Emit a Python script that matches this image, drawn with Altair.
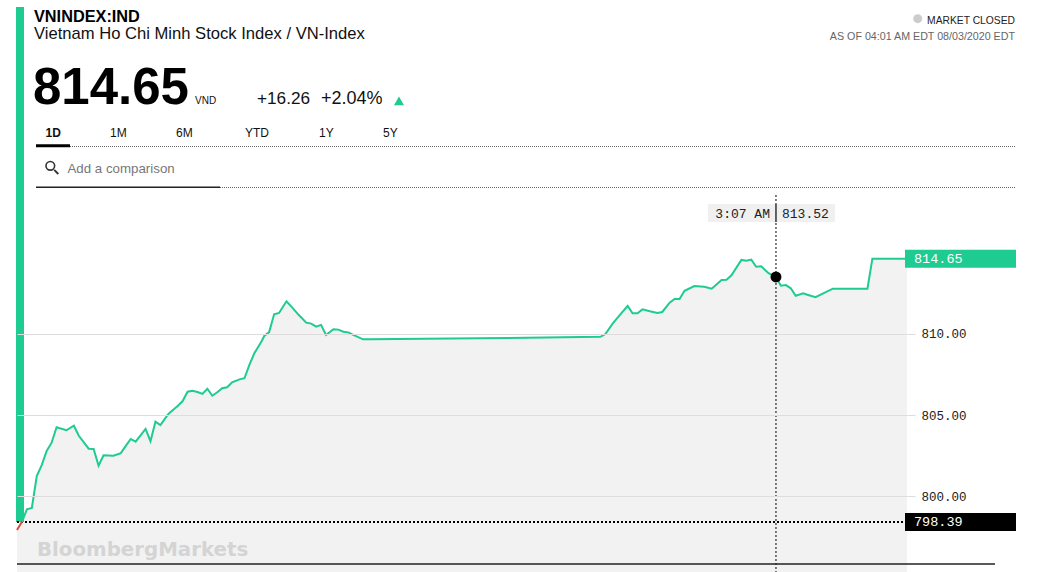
import altair as alt
import pandas as pd

# ---------------- data (minutes after 22:00 EDT, index value) ----------------
times = [2, 4, 6, 8, 10, 12, 14, 16, 20, 23, 25, 29, 31, 33, 35, 39, 42, 44, 46, 48,
         52, 54, 56, 58, 61, 62, 65, 67, 69, 71, 73, 75, 77, 79, 81, 83, 85, 87, 90, 92,
         94, 96, 99, 100, 102, 104, 106, 109, 111, 114, 117, 119, 121, 123, 125, 128, 130, 132, 134, 136,
         140, 143, 187, 236, 238, 241, 245, 247, 249, 251, 253, 256, 259, 261, 264, 266, 268, 270, 274, 278,
         281, 285, 287, 289, 293, 295, 297, 299, 301, 304, 307, 309, 311, 313, 315, 318, 320, 323, 330, 344,
         346, 360]
values = [798.41, 799.18, 799.26, 801.23, 801.91, 802.78, 803.29, 804.24, 804.06, 804.34, 803.72, 802.92, 802.90, 801.87, 802.51, 802.49, 802.65, 803.09, 803.52, 803.35,
          804.14, 803.38, 804.59, 804.38, 805.02, 805.17, 805.56, 805.86, 806.44, 806.50, 806.42, 806.30, 806.62, 806.19, 806.40, 806.65, 806.71, 807.02, 807.20, 807.27,
          808.09, 808.81, 809.57, 809.88, 810.12, 811.22, 811.30, 812.02, 811.69, 811.17, 810.70, 810.64, 810.45, 810.56, 809.94, 810.29, 810.27, 810.14, 810.10, 809.94,
          809.67, 809.67, 809.73, 809.83, 810.00, 810.66, 811.38, 811.73, 811.28, 811.28, 811.52, 811.40, 811.30, 811.36, 811.93, 812.16, 812.16, 812.67, 812.96, 812.92,
          812.80, 813.33, 813.35, 813.62, 814.57, 814.52, 814.59, 814.15, 814.18, 813.75, 813.52, 812.98, 813.02, 812.82, 812.36, 812.51, 812.41, 812.27, 812.80, 812.80,
          814.65, 814.65]
red_times = [0, 2]
red_values = [797.90, 798.41]

prev_close = 798.39
last_price = 814.65
hover_time = 307
hover_value = 813.52
hover_label = "3:07 AM"
y_ticks = [800, 805, 810]

ticker = "VNINDEX:IND"
name = "Vietnam Ho Chi Minh Stock Index / VN-Index"
price_text = "814.65"
currency = "VND"
change_abs = "+16.26"
change_pct = "+2.04%"
tabs = ["1D", "1M", "6M", "YTD", "1Y", "5Y"]
search_text = "Add a comparison"
status_text = "MARKET CLOSED"
asof_text = "AS OF 04:01 AM EDT 08/03/2020 EDT"
watermark = "BloombergMarkets"

# ---------------- layout helpers ----------------
W, H = 890, 384
LEFT, TOP = 17, 188


def X(px):
    return px - LEFT


def Y(py):
    return py - TOP


GREEN = "#1ecb91"
GREY = "#f2f2f2"
MONO = "Liberation Mono"
SANS = "Liberation Sans"

xs = alt.Scale(domain=[0, 360], nice=False, zero=False)
ys = alt.Scale(domain=[795.309, 819.012], nice=False, zero=False)
yaxis = alt.Axis(orient="right", values=y_ticks, format=".2f", grid=True, gridColor="#dddddd",
                 gridWidth=1, tickColor="#dddddd", tickSize=8, domain=False, labelFont=MONO,
                 labelFontSize=12.5, labelColor="#222222", labelPadding=6, title=None, zindex=1)


def xe(f="t"):
    return alt.X(f, type="quantitative", scale=xs, axis=None)


def ye(f="v"):
    return alt.Y(f, type="quantitative", scale=ys, axis=yaxis)


def one():
    return pd.DataFrame({"a": [0]})


def text_layer(s, x, y, size, color="#000000", weight="normal", font=SANS, align="left", baseline="alphabetic"):
    return alt.Chart(pd.DataFrame({"s": [s]})).mark_text(
        align=align, baseline=baseline, fontSize=size, font=font, fontWeight=weight, color=color
    ).encode(x=alt.value(X(x)), y=alt.value(Y(y)), text="s:N")


def hrule(x1, x2, y, color, width, dash=None):
    kw = dict(color=color, strokeWidth=width)
    if dash:
        kw["strokeDash"] = dash
    return alt.Chart(one()).mark_rule(**kw).encode(
        x=alt.value(X(x1)), x2=alt.value(X(x2)), y=alt.value(Y(y)))


line_df = pd.DataFrame({"t": times, "v": values})
area_df = pd.DataFrame({"t": red_times[:1] + times, "v": red_values[:1] + values})
red_df = pd.DataFrame({"t": red_times, "v": red_values})
labels_df = pd.DataFrame({"v": [last_price, prev_close],
                          "label": [f"{last_price:.2f}", f"{prev_close:.2f}"],
                          "c": [GREEN, "#000000"]})
hover_df = pd.DataFrame({"t": [hover_time], "v": [hover_value], "lab": [hover_label]})
prev_df = pd.DataFrame({"v": [prev_close]})

# ---------------- chart layers ----------------
area = alt.Chart(area_df).mark_area(color=GREY).encode(x=xe(), y=ye(), y2=alt.value(H))

accent = alt.Chart(one()).mark_rect(color=GREEN).encode(
    x=alt.value(X(16)), x2=alt.value(X(24)), y=alt.value(Y(7)), y2=alt.value(Y(522)))

prev_rule = alt.Chart(prev_df).mark_rule(color="#000000", strokeWidth=2, strokeDash=[2, 2]).encode(
    y=ye(), x=alt.value(0), x2=alt.value(X(905)))

cross = alt.Chart(hover_df).mark_rule(color="#000000", strokeWidth=1, strokeDash=[2, 2]).encode(
    x=xe(), y=alt.value(Y(195)), y2=alt.value(H))

red_line = alt.Chart(red_df).mark_line(color="#e5473a", strokeWidth=2).encode(x=xe(), y=ye())
green_line = alt.Chart(line_df).mark_line(color=GREEN, strokeWidth=2).encode(x=xe(), y=ye())

dot = alt.Chart(hover_df).mark_point(filled=True, color="#000000", size=120, opacity=1).encode(x=xe(), y=ye())

tip_box = alt.Chart(hover_df).mark_rect(color="#f0f0f0", xOffset=-68, x2Offset=59).encode(
    x=xe(), x2=alt.X2("t"), y=alt.value(Y(204)), y2=alt.value(Y(222)))
tip_sep = alt.Chart(hover_df).mark_rule(color="#333333", strokeWidth=1.5).encode(
    x=xe(), y=alt.value(Y(204)), y2=alt.value(Y(222)))
tip_time = alt.Chart(hover_df).mark_text(align="right", baseline="middle", dx=-6, font=MONO,
                                          fontSize=13, color="#222222").encode(
    x=xe(), y=alt.value(Y(213.5)), text="lab:N")
tip_val = alt.Chart(hover_df).mark_text(align="left", baseline="middle", dx=6, font=MONO,
                                         fontSize=13, color="#222222").encode(
    x=xe(), y=alt.value(Y(213.5)), text=alt.Text("v:Q", format=".2f"))

label_box = alt.Chart(labels_df).mark_rect(yOffset=-9, y2Offset=9).encode(
    y=ye(), y2=alt.Y2("v"), x=alt.value(X(905)), x2=alt.value(X(1016)),
    color=alt.Color("c:N", scale=None))
label_txt = alt.Chart(labels_df).mark_text(align="left", baseline="middle", font=MONO, fontSize=13.5,
                                           color="white").encode(
    y=ye(), x=alt.value(X(914)), text="label:N")

bottom_line = hrule(17, 995, 564, "#222222", 1.5)

wm = text_layer(watermark, 37, 555.5, 19.8, color="#d4d4d4", weight="bold", font="DejaVu Sans")

# header
hdr = [
    text_layer(ticker, 34, 22, 16.3, weight="bold"),
    text_layer(name, 34, 39, 16.6, color="#111111"),
    text_layer(price_text, 33, 104, 51, weight="bold"),
    text_layer(currency, 195, 103.5, 10, color="#111111"),
    text_layer(change_abs, 257, 103.5, 17.2, color="#111111"),
    text_layer(change_pct, 321, 103.5, 18, color="#111111"),
    alt.Chart(one()).mark_point(shape="triangle-up", filled=True, color=GREEN, size=100, opacity=1).encode(
        x=alt.value(X(399)), y=alt.value(Y(100.8))),
    text_layer(status_text, 1015, 24, 10.3, color="#222222", align="right"),
    text_layer(asof_text, 1015, 39.5, 10.7, color="#666666", align="right"),
    alt.Chart(one()).mark_point(shape="circle", filled=True, color="#cccccc", size=80, opacity=1).encode(
        x=alt.value(X(917.7)), y=alt.value(Y(18.7))),
]
tab_x = [45.5, 110, 176, 245, 319, 383]
for lab, tx in zip(tabs, tab_x):
    hdr.append(text_layer(lab, tx, 136.7, 12, color="#111111",
                          weight="bold" if lab == "1D" else "normal"))
hdr += [
    hrule(70, 1015, 146.5, "#666666", 1, [1, 1]),
    hrule(36, 70, 145.8, "#000000", 3),
    alt.Chart(one()).mark_point(shape="circle", filled=False, color="#333333", strokeWidth=1.6,
                                size=75, opacity=1).encode(x=alt.value(X(50.3)), y=alt.value(Y(165.8))),
    alt.Chart(one()).mark_rule(color="#333333", strokeWidth=1.8).encode(
        x=alt.value(X(54.2)), x2=alt.value(X(58.3)), y=alt.value(Y(169.8)), y2=alt.value(Y(174))),
    text_layer(search_text, 67.5, 172.5, 13.3, color="#777777"),
    hrule(220, 1015, 187.5, "#666666", 1, [1, 1]),
    hrule(36, 220, 187.3, "#222222", 1.5),
]

chart = alt.layer(
    area, accent, prev_rule, cross, red_line, green_line, dot,
    tip_box, tip_sep, tip_time, tip_val, label_box, label_txt, bottom_line, wm, *hdr
).properties(
    width=W, height=H,
    padding={"left": LEFT, "top": TOP, "right": 1057 - LEFT - W, "bottom": 572 - TOP - H},
    autosize=alt.AutoSizeParams(type="none"),
    background="white",
).configure_view(stroke=None)

chart.save("out.html", embed_options={"renderer": "svg", "actions": False})
